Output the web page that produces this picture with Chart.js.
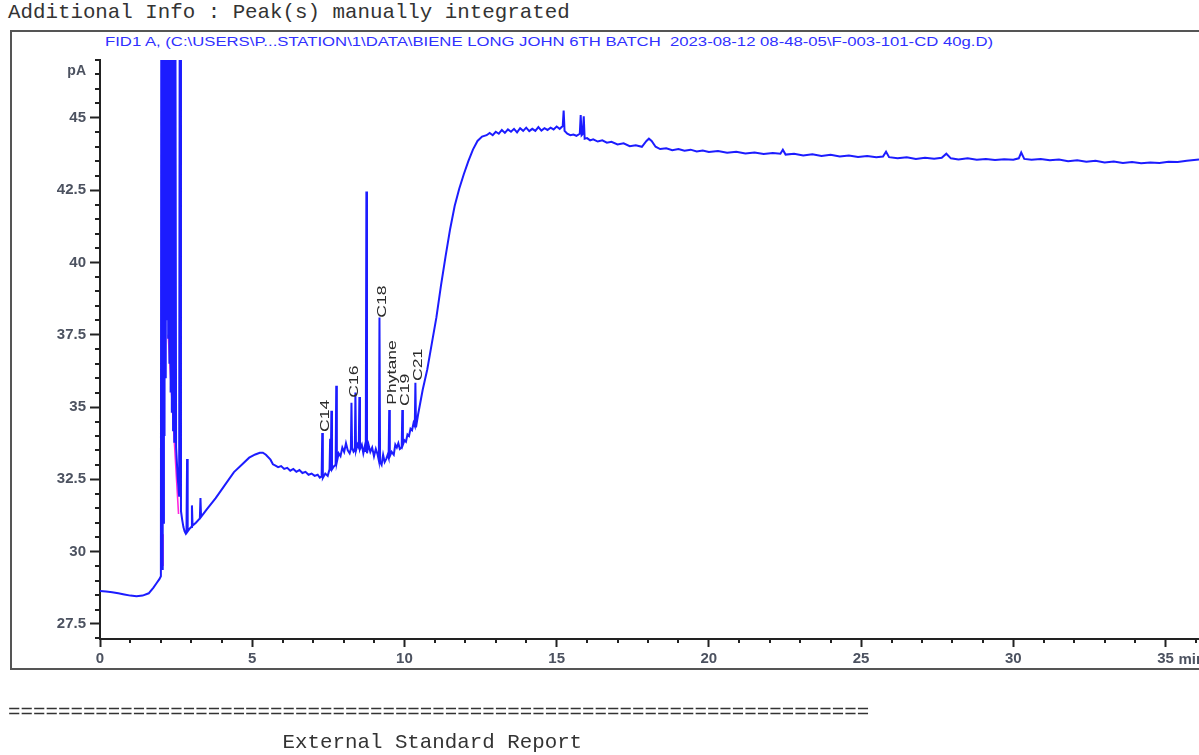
<!DOCTYPE html>
<html>
<head>
<meta charset="utf-8">
<script src="https://cdn.jsdelivr.net/npm/chart.js@4.4.1/dist/chart.umd.min.js"></script>
<style>
    body { margin: 0; background: #fff; width: 1199px; height: 755px; overflow: hidden; position: relative; }
    .mono { position: absolute; font-family: 'Liberation Mono', monospace; font-size: 20.8px; color: #333; white-space: pre; line-height: 1; }
    #frame { position: absolute; left: 10px; top: 30px; width: 1200px; height: 636px; border: 2px solid #555; border-right: none; }
    #title { position: absolute; left: 105px; top: 35px; font: 12px 'Liberation Sans', Arial, sans-serif; color: #3030ff; white-space: pre; transform-origin: 0 0; }
    #wrap { position: absolute; left: 0; top: 0; width: 1199px; height: 755px; }
</style>
</head>
<body>
<div class="mono" style="left:8px;top:3px;">Additional Info : Peak(s) manually integrated</div>
<div id="frame"></div>
<div id="title">FID1 A, (C:\USERS\P...STATION\1\DATA\BIENE LONG JOHN 6TH BATCH  2023-08-12 08-48-05\F-003-101-CD 40g.D)</div>
<div id="wrap"><canvas id="fidChart"></canvas></div>
<div class="mono" style="left:8px;top:703px;">=====================================================================</div>
<div class="mono" style="left:8px;top:733px;">                      External Standard Report</div>

<script>
// FID signal, retention time (min) vs pA - one line per stretch of the run
const times = [
    0.00, 0.20, 0.40, 0.60, 0.80, 1.00, 1.20, 1.40, 1.60, 1.75, 1.85, 1.95,
    2.00, 2.02, 2.04, 2.06, 2.08, 2.10, 2.12, 2.14, 2.16, 2.18, 2.20, 2.22, 2.24, 2.26, 2.28, 2.30, 2.32, 2.34, 2.36, 2.38, 2.40, 2.42, 2.44, 2.46, 2.50, 2.55, 2.60, 2.63, 2.66, 2.70, 2.74, 2.78, 2.82, 2.84,
    2.86, 2.88, 2.95, 3.00, 3.02, 3.04, 3.15, 3.28, 3.30, 3.32, 3.50, 3.80, 4.10, 4.40, 4.70, 4.90, 5.10, 5.25, 5.35, 5.45, 5.60, 5.68, 5.75, 5.85, 5.95, 6.05, 6.15, 6.25, 6.35, 6.45, 6.55, 6.65, 6.75, 6.85, 6.95, 7.05, 7.15, 7.22, 7.28,
    7.30, 7.32, 7.40, 7.48, 7.54, 7.56, 7.58, 7.60, 7.62, 7.68, 7.74, 7.76, 7.78, 7.84, 7.90, 7.96, 8.02, 8.08, 8.14, 8.20, 8.24, 8.26, 8.28, 8.33, 8.37, 8.39, 8.41, 8.46, 8.50, 8.52, 8.54, 8.60, 8.65, 8.70, 8.73, 8.75, 8.77, 8.82, 8.88, 8.94, 9.00, 9.06, 9.12, 9.16, 9.18, 9.20, 9.25, 9.30, 9.35, 9.40, 9.45, 9.48, 9.50, 9.52, 9.58, 9.65, 9.70, 9.75, 9.80, 9.85, 9.91, 9.93, 9.95, 10.00, 10.05, 10.10, 10.15, 10.20, 10.25, 10.30, 10.34, 10.36, 10.38,
    10.45, 10.60, 10.75, 10.90, 11.05, 11.20, 11.35, 11.50, 11.65, 11.80, 11.95, 12.10, 12.25, 12.40, 12.55,
    12.70, 12.80, 12.90, 13.00, 13.10, 13.20, 13.30, 13.40, 13.50, 13.60, 13.70, 13.80, 13.90, 14.00, 14.10, 14.20, 14.30, 14.40, 14.50, 14.60, 14.70, 14.80, 14.90, 15.00, 15.10, 15.20, 15.23, 15.26, 15.35, 15.45, 15.55, 15.65, 15.76, 15.79, 15.82, 15.86, 15.89, 15.92,
    16.00, 16.10, 16.20, 16.35, 16.50, 16.65, 16.80, 17.00, 17.20, 17.40, 17.60, 17.80, 17.95, 18.03, 18.12, 18.25, 18.40, 18.60, 18.80, 19.00, 19.20, 19.40, 19.60, 19.80, 20.00, 20.30, 20.60, 20.90, 21.20, 21.50, 21.80, 22.10, 22.35, 22.43, 22.52, 22.80, 23.10, 23.40, 23.70, 24.00, 24.30, 24.60, 24.90, 25.20, 25.50, 25.72, 25.82, 25.92, 26.20, 26.50, 26.80, 27.10, 27.40, 27.65, 27.80, 27.95, 28.20, 28.50, 28.80, 29.10, 29.40, 29.70, 30.00, 30.18, 30.26, 30.36, 30.60, 30.90, 31.20, 31.50, 31.80, 32.10, 32.40, 32.70, 33.00, 33.30, 33.60, 33.90, 34.20, 34.50, 34.80, 35.10, 35.40, 35.70, 36.10
];
const signal = [
    28.64, 28.62, 28.60, 28.56, 28.52, 28.48, 28.46, 28.48, 28.56, 28.75, 28.90, 29.05,
    29.15, 60, 29.4, 60, 31, 60, 34, 60, 36, 60, 38, 60, 37.4, 60, 36.5, 60, 35.5, 60, 34.8, 60, 34.2, 60, 33.8, 60, 33.6, 32.6, 31.9, 60, 31.4, 31.1, 30.85, 30.7, 30.62, 30.65,
    33.2, 30.70, 30.80, 30.85, 31.60, 30.90, 31.00, 31.15, 31.85, 31.20, 31.45, 31.85, 32.30, 32.75, 33.05, 33.25, 33.36, 33.42, 33.42, 33.35, 33.18, 33.02, 32.98, 32.92, 32.96, 32.86, 32.90, 32.80, 32.86, 32.76, 32.82, 32.72, 32.76, 32.66, 32.70, 32.62, 32.66, 32.56, 32.60,
    34.10, 32.55, 32.70, 32.62, 32.85, 33.9, 32.80, 34.87, 32.85, 32.95, 33.00, 35.74, 33.10, 33.40, 33.30, 33.60, 33.45, 33.75, 33.50, 33.40, 33.55, 35.15, 33.60, 33.45, 33.50, 35.50, 33.50, 33.70, 33.60, 35.35, 33.55, 33.70, 33.40, 33.65, 33.45, 42.45, 33.40, 33.70, 33.45, 33.60, 33.30, 33.55, 33.35, 33.15, 38.10, 33.10, 33.00, 33.35, 33.10, 33.20, 33.35, 33.25, 34.90, 33.30, 33.45, 33.35, 33.70, 33.60, 33.75, 33.55, 33.60, 34.90, 33.70, 33.85, 33.80, 34.05, 34.00, 34.25, 34.20, 34.45, 34.35, 35.84, 34.30,
    34.75, 35.60, 36.30, 37.20, 38.10, 39.20, 40.20, 41.15, 41.95, 42.55, 43.05, 43.50, 43.90, 44.20, 44.35,
    44.40, 44.48, 44.40, 44.52, 44.45, 44.58, 44.48, 44.60, 44.52, 44.62, 44.50, 44.64, 44.55, 44.66, 44.54, 44.62, 44.55, 44.68, 44.56, 44.64, 44.58, 44.66, 44.60, 44.70, 44.62, 44.72, 45.25, 44.55, 44.45, 44.40, 44.42, 44.38, 44.45, 45.10, 44.40, 44.45, 45.05, 44.28,
    44.30, 44.22, 44.26, 44.18, 44.22, 44.14, 44.17, 44.08, 44.12, 44.02, 44.05, 44.00, 44.20, 44.28, 44.20, 44.00, 43.92, 43.95, 43.88, 43.92, 43.86, 43.90, 43.84, 43.87, 43.82, 43.85, 43.79, 43.83, 43.77, 43.80, 43.75, 43.78, 43.76, 43.90, 43.73, 43.76, 43.70, 43.74, 43.68, 43.72, 43.66, 43.70, 43.65, 43.68, 43.64, 43.66, 43.83, 43.64, 43.60, 43.64, 43.58, 43.62, 43.59, 43.62, 43.76, 43.60, 43.56, 43.60, 43.55, 43.58, 43.54, 43.57, 43.55, 43.60, 43.80, 43.58, 43.55, 43.58, 43.53, 43.56, 43.50, 43.53, 43.48, 43.52, 43.46, 43.49, 43.44, 43.47, 43.43, 43.46, 43.44, 43.48, 43.47, 43.52, 43.56
];

// integration baseline segments (magenta), null = pen up
const baseTimes = [2.07, 2.07, 2.15, 2.24, 2.58];
const baseSignal = [29.5, 30.6, null, 37.5, 31.3];

// peak annotations
const peakNames = ['C14', 'C16', 'C18', 'Phytane', 'C19', 'C21'];
const peakTimes = [7.30, 8.26, 9.18, 9.50, 9.93, 10.36];
const peakLabelAt = [34.14, 35.32, 38.09, 35.08, 35.04, 35.90];

const xTicks = [0, 5, 10, 15, 20, 25, 30, 35];
const yTicks = [27.5, 30, 32.5, 35, 37.5, 40, 42.5, 45];

const AXIS_FONT = { family: 'Liberation Sans', size: 15, weight: 'bold' };
const AXIS_COLOR = '#4c5260';

const traceData = times.map((t, i) => ({ x: t, y: signal[i] }));
const baseData = baseTimes.map((t, i) => ({ x: t, y: baseSignal[i] }));

// minor ticks, pA label, "min" unit and rotated peak names
const decorPlugin = {
    id: 'decor',
    afterDraw(chart) {
        const ctx = chart.ctx;
        const xs = chart.scales.x;
        const ys = chart.scales.y;
        const area = chart.chartArea;
        ctx.save();
        ctx.strokeStyle = '#222';
        ctx.lineWidth = 2;
        ctx.beginPath();
        for (let m = 1; m <= 36; m++) {
            if (m % 5 === 0) continue;
            const px = Math.round(xs.getPixelForValue(m));
            ctx.moveTo(px, area.bottom);
            ctx.lineTo(px, area.bottom + 4);
        }
        for (let v = 27; v <= 47; v += 0.5) {
            if (Math.abs(v / 2.5 - Math.round(v / 2.5)) < 1e-6) continue;
            const py = Math.round(ys.getPixelForValue(v));
            ctx.moveTo(area.left, py);
            ctx.lineTo(area.left - 5, py);
        }
        ctx.stroke();

        ctx.fillStyle = AXIS_COLOR;
        ctx.font = 'bold 14px "Liberation Sans"';
        ctx.textAlign = 'right';
        ctx.textBaseline = 'middle';
        ctx.fillText('pA', area.left - 14, area.top + 11);
        ctx.textAlign = 'left';
        ctx.font = 'bold 15px "Liberation Sans"';
        ctx.fillText('min', xs.getPixelForValue(35) + 13, area.bottom + 21);

        ctx.fillStyle = '#2a2a2a';
        ctx.font = '13px "Liberation Sans"';
        peakNames.forEach((name, i) => {
            const px = xs.getPixelForValue(peakTimes[i]) + 3;
            const py = ys.getPixelForValue(peakLabelAt[i]);
            ctx.save();
            ctx.translate(px, py);
            ctx.rotate(-Math.PI / 2);
            ctx.scale(1.35, 1);
            ctx.textAlign = 'left';
            ctx.textBaseline = 'middle';
            ctx.fillText(name, 0, 0);
            ctx.restore();
        });
        ctx.restore();
    }
};

const ctx = document.getElementById('fidChart').getContext('2d');
new Chart(ctx, {
    type: 'line',
    data: {
        datasets: [
            {
                data: traceData,
                borderColor: 'rgb(28,28,255)',
                borderWidth: 2,
                pointRadius: 0,
                tension: 0
            },
            {
                data: baseData,
                borderColor: 'rgb(255,40,220)',
                borderWidth: 1.6,
                pointRadius: 0,
                spanGaps: false
            }
        ]
    },
    options: {
        responsive: true,
        maintainAspectRatio: false,
        animation: false,
        layout: { autoPadding: false, padding: { top: 60, left: 0, right: 0, bottom: 88 } },
        plugins: { legend: { display: false }, tooltip: { enabled: false } },
        scales: {
            x: {
                type: 'linear',
                min: 0,
                max: 36.1,
                afterBuildTicks: (s) => { s.ticks = xTicks.map(v => ({ value: v })); },
                afterFit: (s) => { s.height = 28; },
                ticks: { color: AXIS_COLOR, font: AXIS_FONT, padding: 3, maxRotation: 0, autoSkip: false },
                grid: { drawOnChartArea: false, tickLength: 8, tickWidth: 2, tickColor: '#222' },
                border: { color: '#222', width: 2 }
            },
            y: {
                type: 'linear',
                min: 26.98,
                max: 47.0,
                afterBuildTicks: (s) => { s.ticks = yTicks.map(v => ({ value: v })); },
                afterFit: (s) => { s.width = 100; },
                ticks: { color: AXIS_COLOR, font: AXIS_FONT, padding: 4 },
                grid: { drawOnChartArea: false, tickLength: 10, tickWidth: 2, tickColor: '#222' },
                border: { color: '#222', width: 2 }
            }
        }
    },
    plugins: [decorPlugin]
});

// squeeze the header line to the width it takes in the report
const title = document.getElementById('title');
title.style.transform = `scaleX(${888 / title.getBoundingClientRect().width})`;
</script>
</body>
</html>
